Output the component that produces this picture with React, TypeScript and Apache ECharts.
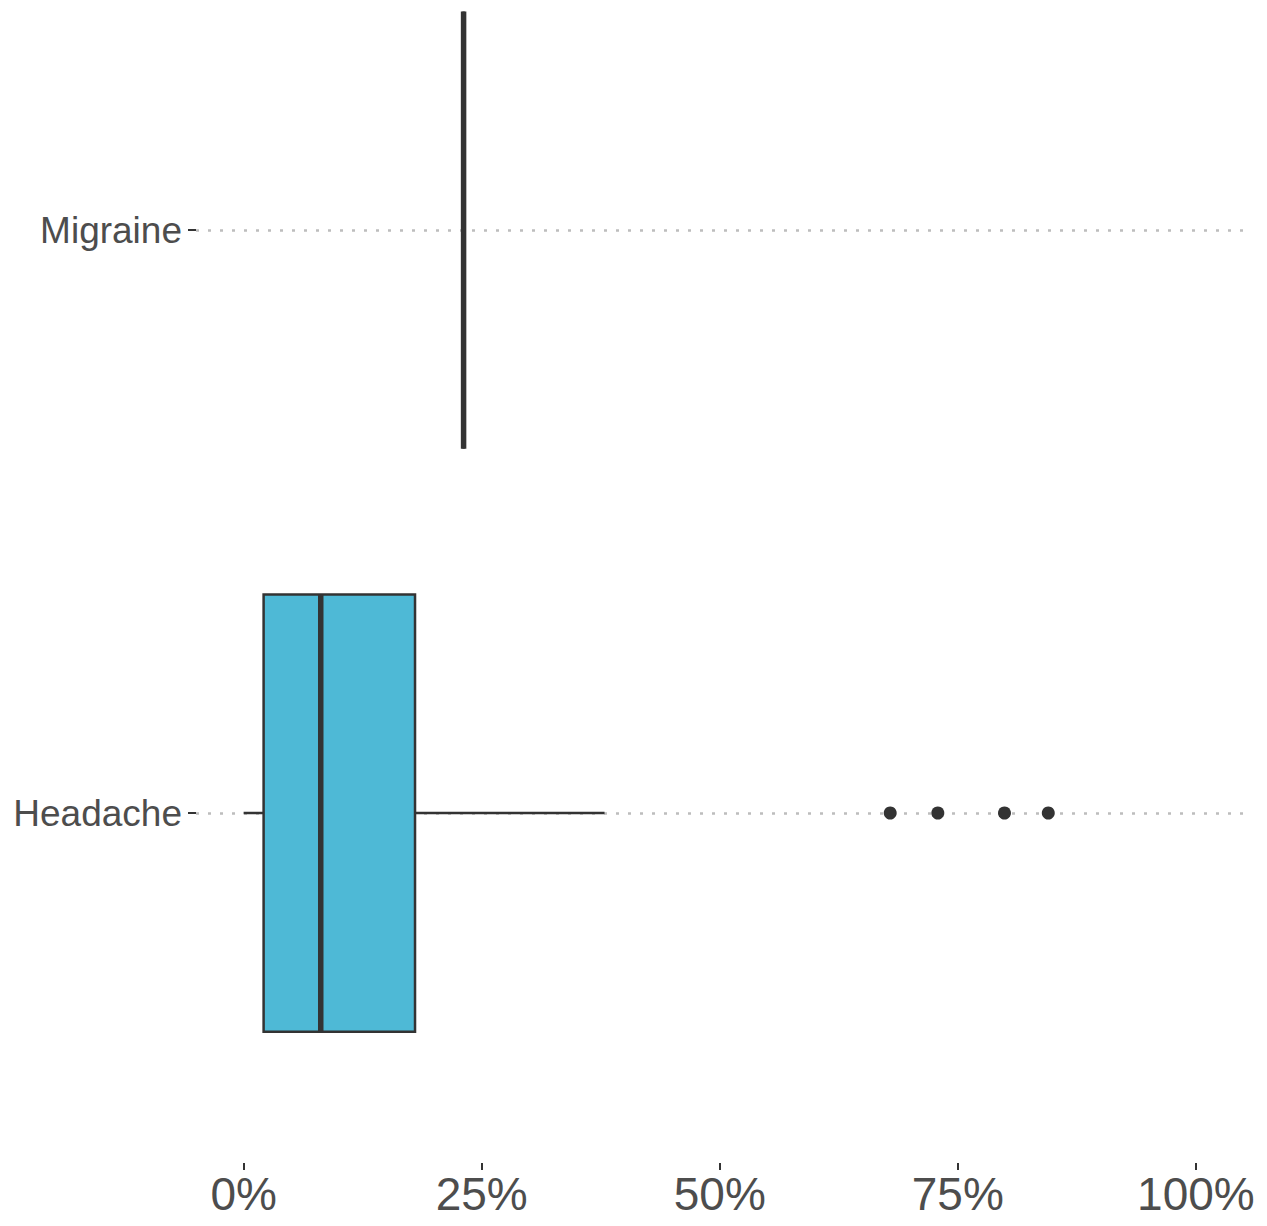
import React, { useEffect, useRef } from 'react';
import * as echarts from 'echarts';

const categories = ['Headache', 'Migraine'];
const boxMin = [0, 23.1];
const boxQ1 = [2.1, 23.1];
const boxMedian = [8.1, 23.1];
const boxQ3 = [18.0, 23.1];
const boxMax = [37.9, 23.1];
const outlierCategory = ['Headache', 'Headache', 'Headache', 'Headache'];
const outlierValues = [67.9, 72.9, 79.9, 84.5];
const xTickValues = [0, 25, 50, 75, 100];

const FONT = '"Liberation Sans", Arial, Helvetica, sans-serif';
const BOX_FILL = '#4EB9D6';
const INK = '#333333';

export default function App() {
  const ref = useRef<HTMLDivElement>(null);
  useEffect(() => {
    if (!ref.current) return;
    const chart = echarts.init(ref.current, undefined, { renderer: 'svg' });
    const boxData = categories.map((c, i) => [i, boxMin[i], boxQ1[i], boxMedian[i], boxQ3[i], boxMax[i]]);
    const outData = outlierValues.map((v, i) => [v, outlierCategory[i]]);
    chart.setOption({
      animation: false,
      backgroundColor: '#ffffff',
      grid: {
        left: 196,
        right: 23.5,
        top: 230,
        bottom: 413,
        containLabel: false,
        outerBoundsMode: 'none',
      },
      xAxis: {
        type: 'value',
        min: -5,
        max: 105,
        position: 'bottom',
        offset: 350,
        axisLine: { show: false, onZero: false },
        splitLine: { show: false },
        axisTick: {
          show: true,
          customValues: xTickValues,
          length: 7,
          lineStyle: { color: INK, width: 2 },
        },
        axisLabel: {
          customValues: xTickValues,
          formatter: '{value}%',
          fontSize: 46,
          fontFamily: FONT,
          color: '#4D4D4D',
          margin: 8,
        },
      },
      yAxis: {
        type: 'category',
        data: categories,
        boundaryGap: false,
        position: 'left',
        axisLine: { show: false, onZero: false },
        axisTick: { show: true, length: 8, lineStyle: { color: INK, width: 2 } },
        axisLabel: {
          fontSize: 37,
          fontFamily: FONT,
          color: '#4D4D4D',
          margin: 14,
        },
        splitLine: {
          show: true,
          lineStyle: { color: '#BDBDBD', width: 2.5, type: [3, 9] },
        },
      },
      series: [
        {
          type: 'custom',
          clip: false,
          encode: { x: [1, 2, 3, 4, 5], y: 0 },
          data: boxData,
          renderItem: (params: any, api: any) => {
            const cat = api.value(0);
            const lo = api.value(1);
            const q1 = api.value(2);
            const med = api.value(3);
            const q3 = api.value(4);
            const hi = api.value(5);
            const yc = api.coord([q1, cat])[1];
            const band = api.size([0, 1])[1];
            const half = band * 0.375;
            const xLo = api.coord([lo, cat])[0];
            const xQ1 = api.coord([q1, cat])[0];
            const xMed = api.coord([med, cat])[0];
            const xQ3 = api.coord([q3, cat])[0];
            const xHi = api.coord([hi, cat])[0];
            return {
              type: 'group',
              children: [
                {
                  type: 'line',
                  shape: { x1: xLo, y1: yc, x2: xQ1, y2: yc },
                  style: { stroke: INK, lineWidth: 2.5 },
                },
                {
                  type: 'line',
                  shape: { x1: xQ3, y1: yc, x2: xHi, y2: yc },
                  style: { stroke: INK, lineWidth: 2.5 },
                },
                {
                  type: 'rect',
                  shape: { x: xQ1, y: yc - half, width: xQ3 - xQ1, height: 2 * half },
                  style: { fill: BOX_FILL, stroke: INK, lineWidth: 2.5 },
                },
                {
                  type: 'line',
                  shape: { x1: xMed, y1: yc - half, x2: xMed, y2: yc + half },
                  style: { stroke: INK, lineWidth: 5.5 },
                },
              ],
            };
          },
          z: 2,
        },
        {
          type: 'scatter',
          clip: false,
          data: outData,
          symbol: 'circle',
          symbolSize: 13,
          itemStyle: { color: INK, opacity: 1 },
          z: 3,
        },
      ],
    });
    return () => chart.dispose();
  }, []);
  return (
    <div
      ref={ref}
      style={{ position: 'fixed', left: 0, top: 0, width: 1267, height: 1226 }}
    />
  );
}
